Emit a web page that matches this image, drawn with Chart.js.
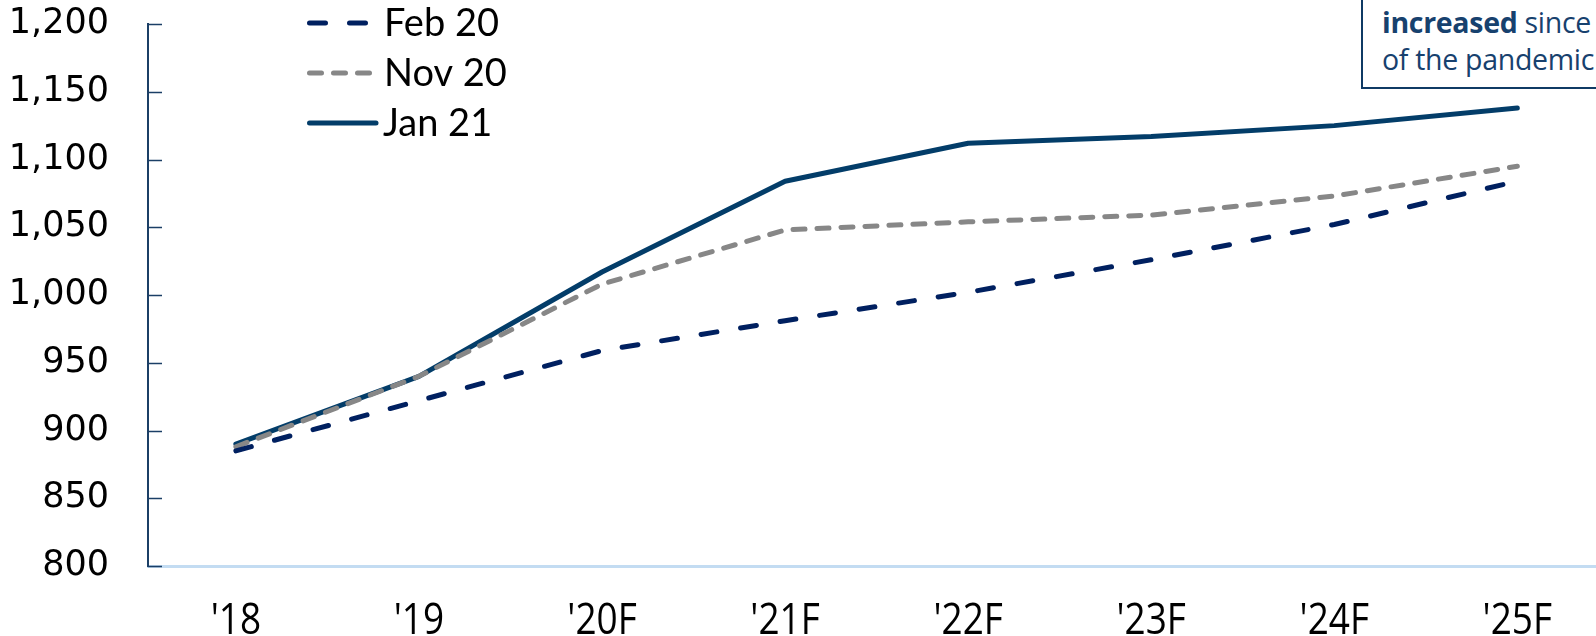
<!DOCTYPE html>
<html>
<head>
<meta charset="utf-8">
<script src="https://cdn.jsdelivr.net/npm/chart.js@4.4.1/dist/chart.umd.min.js"></script>
<style>
  html, body { margin: 0; padding: 0; background: #fff; overflow: hidden; width: 1596px; height: 636px; }
  #wrap { position: absolute; left: 0; top: 0; width: 1640px; height: 636px; }
  #note {
    position: absolute; left: 1361px; top: -40px; width: 400px; height: 129px;
    border: 2px solid #0f3a64; box-sizing: border-box;
    font-family: "Open Sans", sans-serif; font-size: 28.5px; line-height: 40px; color: #17416e;
    white-space: nowrap; background: #fff; letter-spacing: -0.3px;
  }
  #note .l1 { position: absolute; top: 40px; left: 19px; }
  #note .l2 { position: absolute; top: 77px; left: 19px; }
</style>
</head>
<body>
<div id="wrap"><canvas id="chart" width="1640" height="636"></canvas></div>
<div id="note"><div class="l1"><b>increased</b> since the start</div><div class="l2">of the pandemic</div></div>
<script>
const categories = ["'18", "'19", "'20F", "'21F", "'22F", "'23F", "'24F", "'25F"];
const feb20 = [885, 922, 959, 981, 1002, 1026, 1052, 1084];
const nov20 = [888, 940, 1008, 1048, 1054, 1059, 1073, 1095];
const jan21 = [890, 940, 1017, 1084, 1112, 1117, 1125, 1138];
const yTicks = [800, 850, 900, 950, 1000, 1050, 1100, 1150, 1200];

const toPoints = arr => arr.map((v, i) => ({ x: i, y: v }));

// ticks drawn inward from the y axis, plus the narrow category labels
const axisExtras = {
  id: 'axisExtras',
  afterDraw(chart) {
    const { ctx, scales } = chart;
    const y = scales.y;
    const x = scales.x;
    ctx.save();
    ctx.strokeStyle = '#1b3f66';
    ctx.lineWidth = 1.5;
    yTicks.forEach(v => {
      const py = Math.round(y.getPixelForValue(v)) + 0.5;
      ctx.beginPath();
      ctx.moveTo(y.right, py);
      ctx.lineTo(y.right + 14, py);
      ctx.stroke();
    });
    ctx.fillStyle = '#000';
    ctx.font = '44px "Open Sans", sans-serif';
    ctx.textAlign = 'center';
    ctx.textBaseline = 'alphabetic';
    categories.forEach((c, i) => {
      ctx.save();
      ctx.translate(x.getPixelForValue(i), 634);
      ctx.scale(0.84, 1);
      ctx.fillText(c, 0, 0);
      ctx.restore();
    });
    ctx.restore();
  }
};

// vertical legend in the top-left of the plot
const sideLegend = {
  id: 'sideLegend',
  afterDraw(chart) {
    const { ctx } = chart;
    const rows = [23, 73, 123];
    ctx.save();
    ctx.font = '38px Lato, "Open Sans", sans-serif';
    ctx.textBaseline = 'middle';
    chart.data.datasets.forEach((ds, i) => {
      const y = rows[i];
      ctx.strokeStyle = ds.borderColor;
      ctx.lineWidth = 5;
      ctx.lineCap = 'round';
      ctx.setLineDash(ds.borderDash || []);
      ctx.beginPath();
      ctx.moveTo(309.5, y);
      ctx.lineTo(i === 2 ? 376 : 369.5, y);
      ctx.stroke();
      ctx.setLineDash([]);
      ctx.fillStyle = '#000';
      ctx.fillText(ds.label, i === 2 ? 383 : 384, y + 1);
    });
    ctx.restore();
  }
};

new Chart(document.getElementById('chart'), {
  type: 'line',
  data: {
    datasets: [
      { label: 'Feb 20', data: toPoints(feb20), borderColor: '#002060', borderWidth: 5, borderDash: [16, 24], borderCapStyle: 'round', pointRadius: 0, tension: 0 },
      { label: 'Nov 20', data: toPoints(nov20), borderColor: '#878787', borderWidth: 5, borderDash: [12, 12], borderCapStyle: 'round', pointRadius: 0, tension: 0 },
      { label: 'Jan 21', data: toPoints(jan21), borderColor: '#033d69', borderWidth: 5, borderCapStyle: 'round', borderJoinStyle: 'round', pointRadius: 0, tension: 0 },
    ],
  },
  options: {
    responsive: false,
    animation: false,
    devicePixelRatio: 1,
    layout: { padding: { top: 24, left: 0, right: 0, bottom: 0 } },
    plugins: { legend: { display: false }, tooltip: { enabled: false } },
    scales: {
      x: {
        type: 'linear',
        min: -0.48,
        max: 7.67,
        afterBuildTicks: s => { s.ticks = categories.map((c, i) => ({ value: i })); },
        afterFit: s => { s.height = 70; s.paddingLeft = 0; s.paddingRight = 0; },
        ticks: { display: false },
        grid: { drawOnChartArea: false, drawTicks: false, color: 'rgba(0,0,0,0)' },
        border: { display: true, color: '#c3dcf2', width: 3 },
      },
      y: {
        min: 800,
        max: 1200,
        afterBuildTicks: s => { s.ticks = yTicks.map(v => ({ value: v })); },
        afterFit: s => { s.width = 148; s.paddingTop = 0; s.paddingBottom = 0; },
        ticks: {
          callback: v => v.toLocaleString('en-US'),
          color: '#000',
          padding: 39,
          font: { family: '"DejaVu Sans", sans-serif', size: 35 },
        },
        grid: { drawOnChartArea: false, drawTicks: false, color: 'rgba(0,0,0,0)' },
        border: { display: true, color: '#1b3f66', width: 2 },
      },
    },
  },
  plugins: [axisExtras, sideLegend],
});
</script>
</body>
</html>
